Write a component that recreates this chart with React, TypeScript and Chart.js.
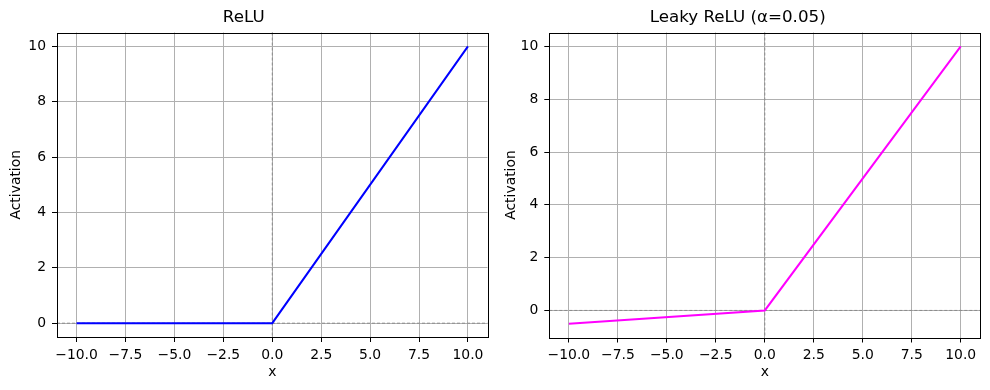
import React, { useEffect, useRef } from "react";
import { Chart, registerables } from "chart.js";

Chart.register(...registerables);

const xValues = [-10, 0, 10];
const reluValues = [0, 0, 10];
const leakyValues = [-0.5, 0, 10];
const xTicks = [-10, -7.5, -5, -2.5, 0, 2.5, 5, 7.5, 10];
const yTicks = [0, 2, 4, 6, 8, 10];

const FONT = "'DejaVu Sans', sans-serif";

const fmtX = (v: number) => v.toFixed(1).replace("-", "\u2212");
const fmtY = (v: number) => String(v).replace("-", "\u2212");

const framePlugin = {
  id: "frameAndZeroLines",
  beforeDatasetsDraw(chart: any) {
    const { ctx, chartArea, scales } = chart;
    ctx.save();
    ctx.strokeStyle = "#808080";
    ctx.lineWidth = 0.8;
    ctx.setLineDash([3, 2]);
    const y0 = scales.y.getPixelForValue(0);
    const x0 = scales.x.getPixelForValue(0);
    ctx.beginPath();
    ctx.moveTo(chartArea.left, y0);
    ctx.lineTo(chartArea.right, y0);
    ctx.moveTo(x0, chartArea.top);
    ctx.lineTo(x0, chartArea.bottom);
    ctx.stroke();
    ctx.restore();
  },
  afterDraw(chart: any) {
    const { ctx, chartArea } = chart;
    ctx.save();
    ctx.strokeStyle = "#000";
    ctx.lineWidth = 1;
    ctx.strokeRect(
      Math.round(chartArea.left) + 0.5,
      Math.round(chartArea.top) + 0.5,
      Math.round(chartArea.right - chartArea.left),
      Math.round(chartArea.bottom - chartArea.top)
    );
    ctx.restore();
  },
};

function makeConfig(
  title: string,
  values: number[],
  color: string,
  yMin: number,
  yMax: number,
  yWidth: number,
  padRight: number,
  xHeight: number
): any {
  return {
    type: "line",
    data: {
      datasets: [
        {
          data: xValues.map((x, i) => ({ x, y: values[i] })),
          borderColor: color,
          borderWidth: 2,
          pointRadius: 0,
          tension: 0,
          fill: false,
        },
      ],
    },
    options: {
      responsive: false,
      animation: false,
      devicePixelRatio: 1,
      layout: { padding: { left: 0, right: padRight, top: 0, bottom: 0 } },
      plugins: {
        legend: { display: false },
        tooltip: { enabled: false },
        title: {
          display: true,
          text: title,
          color: "#000",
          font: { family: FONT, size: 16.7, weight: "normal" },
          padding: { top: 8, bottom: 4.5 },
        },
      },
      scales: {
        x: {
          type: "linear",
          min: -11,
          max: 11,
          afterBuildTicks: (s: any) => {
            s.ticks = xTicks.map((value) => ({ value }));
          },
          afterFit: (s: any) => {
            s.height = xHeight;
          },
          ticks: {
            color: "#000",
            font: { family: FONT, size: 13.9 },
            padding: 5,
            maxRotation: 0,
            autoSkip: false,
            callback: (v: number) => fmtX(v),
          },
          grid: { color: "#b0b0b0", lineWidth: 1, tickLength: 5, tickColor: "#000" },
          border: { display: false },
          title: {
            display: true,
            text: "x",
            color: "#000",
            font: { family: FONT, size: 13.9 },
            padding: { top: 0, bottom: 9.7 },
          },
        },
        y: {
          type: "linear",
          min: yMin,
          max: yMax,
          afterBuildTicks: (s: any) => {
            s.ticks = yTicks.map((value) => ({ value }));
          },
          afterFit: (s: any) => {
            s.width = yWidth;
          },
          ticks: {
            color: "#000",
            font: { family: FONT, size: 13.9 },
            padding: 6,
            autoSkip: false,
            callback: (v: number) => fmtY(v),
          },
          grid: { color: "#b0b0b0", lineWidth: 1, tickLength: 5, tickColor: "#000" },
          border: { display: false },
          title: {
            display: true,
            text: "Activation",
            color: "#000",
            font: { family: FONT, size: 13.9 },
            padding: { top: 7.7, bottom: 0 },
          },
        },
      },
    },
    plugins: [framePlugin],
  };
}

function ChartBox(props: { config: any; left: number }) {
  const ref = useRef<HTMLCanvasElement | null>(null);
  useEffect(() => {
    if (!ref.current) return;
    const chart = new Chart(ref.current, props.config);
    return () => chart.destroy();
  }, []);
  return (
    <div style={{ position: "absolute", left: props.left, top: 0, width: 495, height: 390 }}>
      <canvas ref={ref} width={495} height={390} style={{ display: "block" }} />
    </div>
  );
}

export default function App() {
  const leftCfg = makeConfig("ReLU", reluValues, "#0000ff", -0.5, 10.5, 57, 7.5, 53);
  const rightCfg = makeConfig("Leaky ReLU (\u03b1=0.05)", leakyValues, "#ff00ff", -1.025, 10.525, 54.3, 9.7, 52.5);
  return (
    <div style={{ position: "fixed", left: 0, top: 0, width: 990, height: 390, background: "#fff" }}>
      <ChartBox config={leftCfg} left={0} />
      <ChartBox config={rightCfg} left={495} />
    </div>
  );
}
